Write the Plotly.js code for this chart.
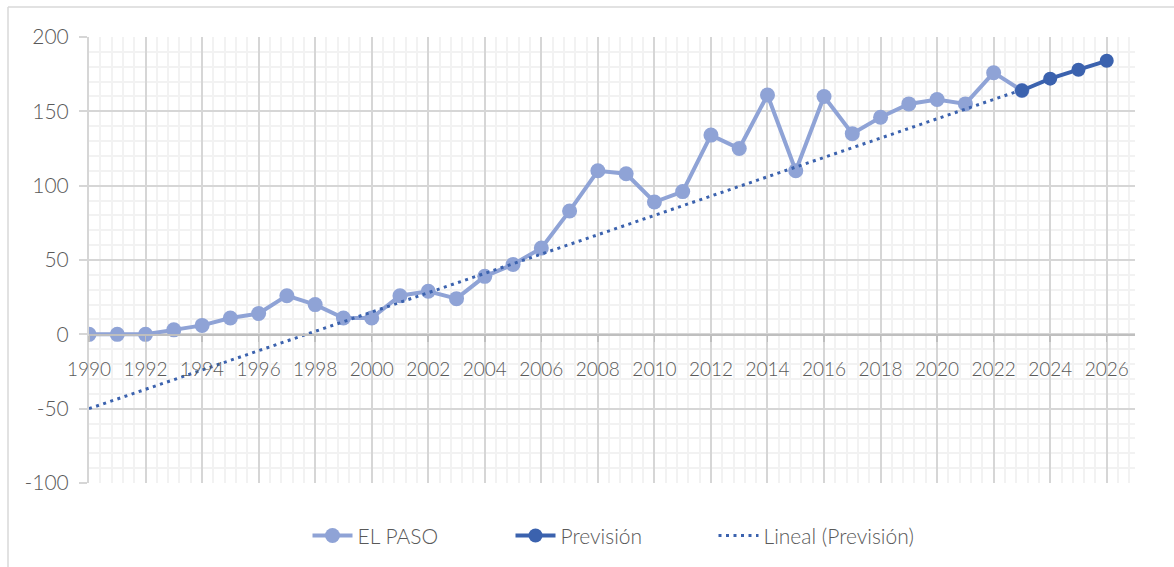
<!DOCTYPE html>
<html>
<head>
<meta charset="utf-8">
<script src="https://cdn.plot.ly/plotly-3.0.1.min.js"></script>
<style>
  html, body { margin: 0; padding: 0; background: #ffffff; }
  #chart { width: 1174px; height: 567px; }
</style>
</head>
<body>
<div id="chart"></div>
<script>
// ---- data ----
const years = [1990, 1991, 1992, 1993, 1994, 1995, 1996, 1997, 1998, 1999,
               2000, 2001, 2002, 2003, 2004, 2005, 2006, 2007, 2008, 2009,
               2010, 2011, 2012, 2013, 2014, 2015, 2016, 2017, 2018, 2019,
               2020, 2021, 2022, 2023];
const elPaso = [0, 0, 0, 3, 6, 11, 14, 26, 20, 11,
                11, 26, 29, 24, 39, 47, 58, 83, 110, 108,
                89, 96, 134, 125, 161, 110, 160, 135, 146, 155,
                158, 155, 176, 164];
const forecastYears = [2023, 2024, 2025, 2026];
const forecast = [164, 172, 178, 184];
const trendYears = [1990, 2023];
const trendValues = [-50, 164.5];
const xTicks = [1990, 1992, 1994, 1996, 1998, 2000, 2002, 2004, 2006, 2008,
                2010, 2012, 2014, 2016, 2018, 2020, 2022, 2024, 2026];
const yTicks = [-100, -50, 0, 50, 100, 150, 200];

// minor grid positions: 4 subdivisions between each pair of labelled years
const xMinor = [];
for (let i = 0; i <= xTicks.length; i++) {
  const a = i < xTicks.length ? xTicks[i] : 2028;
  for (let k = 1; k < 5; k++) xMinor.push(+(a + k * 0.4).toFixed(2));
}

const FONT = 'Lato, "Open Sans", sans-serif';
const TEXT = '#595959';
const LIGHT = '#8FA3D6';
const DARK = '#3B62AE';

const traces = [
  {
    x: years, y: elPaso, name: 'EL PASO', type: 'scatter', mode: 'lines+markers',
    line: { color: LIGHT, width: 4 },
    marker: { color: LIGHT, size: 15 }
  },
  {
    x: forecastYears, y: forecast, name: 'Previsión', type: 'scatter', mode: 'lines+markers',
    line: { color: DARK, width: 4 },
    marker: { color: DARK, size: 14 }
  },
  {
    x: trendYears, y: trendValues, name: 'Lineal (Previsión)', type: 'scatter', mode: 'lines',
    line: { color: DARK, width: 3, dash: '3px,4.5px' }
  }
];

const layout = {
  width: 1174, height: 567,
  margin: { l: 89, r: 39, t: 37, b: 83 },
  paper_bgcolor: '#ffffff', plot_bgcolor: '#ffffff',
  font: { family: FONT, color: TEXT, size: 18, weight: 300 },
  showlegend: true,
  legend: {
    orientation: 'h', x: 0.5, xanchor: 'center', y: -0.116, yanchor: 'middle',
    font: { family: FONT, color: TEXT, size: 21, weight: 300 },
    itemwidth: 40, traceorder: 'normal',
    entrywidth: 148, entrywidthmode: 'pixels'
  },
  xaxis: {
    range: [1990, 2027],
    tickvals: xTicks, ticktext: xTicks.map(String),
    anchor: 'free', position: 1 / 3,
    showline: true, linecolor: '#BFBFBF', linewidth: 1.5,
    ticks: 'outside', ticklen: 6, tickcolor: '#BFBFBF', tickwidth: 1.5,
    ticklabelstandoff: 11,
    showgrid: true, gridcolor: '#D6D6D6', gridwidth: 2,
    minor: { tickmode: 'array', tickvals: xMinor, showgrid: true, gridcolor: '#F2F2F2', gridwidth: 2, ticks: '' },
    zeroline: false, fixedrange: true,
    tickfont: { family: FONT, color: TEXT, size: 19, weight: 300 }
  },
  yaxis: {
    range: [-100, 200],
    tickvals: yTicks, ticktext: yTicks.map(String),
    showline: true, linecolor: '#D6D6D6', linewidth: 2,
    ticks: 'outside', ticklen: 8, tickcolor: '#D6D6D6', tickwidth: 2,
    ticklabelstandoff: 6,
    showgrid: true, gridcolor: '#D6D6D6', gridwidth: 2,
    minor: { dtick: 10, showgrid: true, gridcolor: '#F2F2F2', gridwidth: 2, ticks: '' },
    zeroline: false, fixedrange: true,
    tickfont: { family: FONT, color: TEXT, size: 21, weight: 300 }
  },
  shapes: [
    { type: 'line', xref: 'paper', yref: 'paper',
      x0: (8 - 89) / 1046, x1: (8 - 89) / 1046, y0: (484 - 7) / 447, y1: -0.3,
      line: { color: '#D9D9D9', width: 1.5 } },
    { type: 'line', xref: 'paper', yref: 'paper',
      x0: (8 - 89) / 1046, x1: 1.1, y0: (484 - 7) / 447, y1: (484 - 7) / 447,
      line: { color: '#D9D9D9', width: 1.5 } }
  ]
};

Plotly.newPlot('chart', traces, layout, { displayModeBar: false, staticPlot: true });
</script>
</body>
</html>
